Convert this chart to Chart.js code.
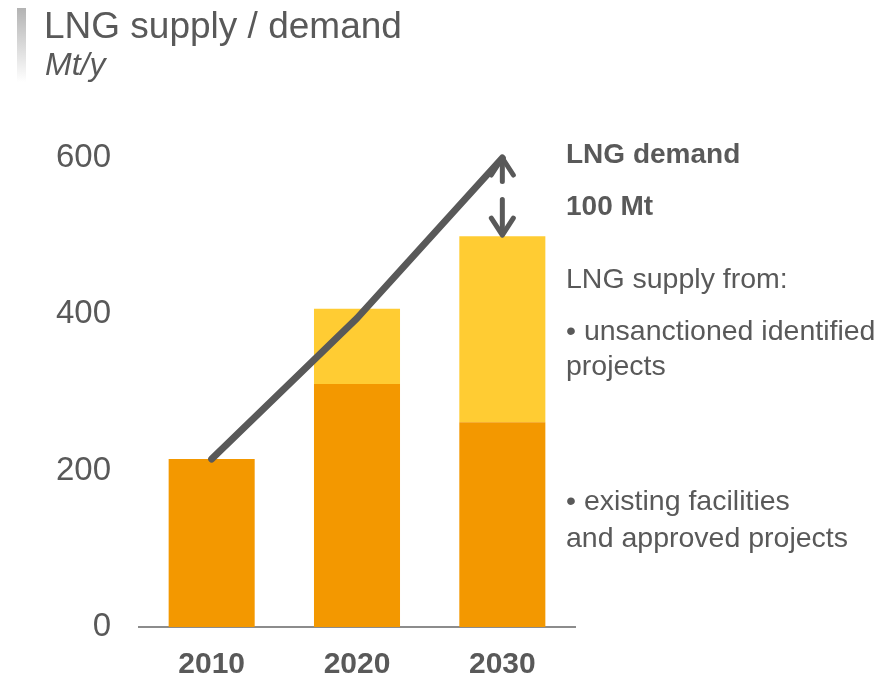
<!DOCTYPE html>
<html>
<head>
<meta charset="utf-8">
<script src="https://cdn.jsdelivr.net/npm/chart.js@4.4.1/dist/chart.umd.min.js"></script>
<style>
  html, body { margin: 0; padding: 0; background: #ffffff; }
  #wrap { position: relative; width: 884px; height: 677px; overflow: hidden; font-family: "Liberation Sans", Arial, sans-serif; color: #595959; }
  #c { position: absolute; left: 0; top: 0; }
  .t { position: absolute; white-space: nowrap; line-height: 1; }
  #bar { position: absolute; left: 17px; top: 8px; width: 9px; height: 74px; background: linear-gradient(#b3b3b3, #ffffff); }
</style>
</head>
<body>
<div id="wrap">
  <canvas id="c" width="884" height="677"></canvas>
  <div id="bar"></div>
  <div class="t" style="left:44px; top:7px; font-size:37px;">LNG supply / demand</div>
  <div class="t" style="left:45px; top:48px; font-size:32px; font-style:italic;">Mt/y</div>
  <div class="t" style="left:566px; top:140px; font-size:28px; font-weight:bold;">LNG demand</div>
  <div class="t" style="left:566px; top:192px; font-size:28px; font-weight:bold;">100 Mt</div>
  <div class="t" style="left:566px; top:264px; font-size:28.5px;">LNG supply from:</div>
  <div class="t" style="left:566px; top:316px; font-size:28.5px;">• unsanctioned identified</div>
  <div class="t" style="left:566px; top:351px; font-size:28.5px;">projects</div>
  <div class="t" style="left:566px; top:486px; font-size:28.5px;">• existing facilities</div>
  <div class="t" style="left:566px; top:523px; font-size:28.5px;">and approved projects</div>
</div>
<script>
const years = ["2010", "2020", "2030"];
const existingSupply = [215, 311, 262];
const unsanctionedSupply = [0, 96, 238];
const demand = [215, 395, 600];
const yTicks = [0, 200, 400, 600];

const TEXT = "#595959";
const FONT = "'Liberation Sans', Arial, sans-serif";

const arrowPlugin = {
  id: "gapArrow",
  afterDatasetsDraw(chart) {
    const ctx = chart.ctx;
    const xs = chart.scales.x, ys = chart.scales.y;
    const i = years.length - 1;
    const x = xs.getPixelForValue(i);
    const tipY = ys.getPixelForValue(demand[i]);
    const barY = ys.getPixelForValue(existingSupply[i] + unsanctionedSupply[i]);
    const d = barY - tipY;
    ctx.save();
    ctx.strokeStyle = TEXT;
    ctx.lineCap = "round";
    ctx.lineJoin = "round";
    ctx.lineWidth = 5;
    // dashed shaft
    ctx.beginPath();
    ctx.moveTo(x, tipY + 2); ctx.lineTo(x, tipY + 0.3 * d);
    ctx.moveTo(x, tipY + 0.53 * d); ctx.lineTo(x, barY - 5);
    ctx.stroke();
    // up head
    ctx.beginPath();
    ctx.moveTo(x - 11, tipY + 17); ctx.lineTo(x, tipY); ctx.lineTo(x + 11, tipY + 17);
    ctx.stroke();
    // down head
    ctx.beginPath();
    ctx.moveTo(x - 11, barY - 18); ctx.lineTo(x, barY - 1); ctx.lineTo(x + 11, barY - 18);
    ctx.stroke();
    ctx.restore();
  }
};

new Chart(document.getElementById("c"), {
  data: {
    labels: years,
    datasets: [
      {
        type: "line",
        label: "LNG demand",
        data: demand,
        borderColor: TEXT,
        borderWidth: 7,
        borderCapStyle: "round",
        borderJoinStyle: "round",
        pointRadius: 0,
        tension: 0,
        clip: false,
        order: 0
      },
      {
        type: "bar",
        label: "existing facilities and approved projects",
        data: existingSupply,
        backgroundColor: "#F39800",
        barPercentage: 0.592,
        categoryPercentage: 1,
        order: 1
      },
      {
        type: "bar",
        label: "unsanctioned identified projects",
        data: unsanctionedSupply,
        backgroundColor: "#FFCC33",
        barPercentage: 0.592,
        categoryPercentage: 1,
        order: 1
      }
    ]
  },
  options: {
    responsive: false,
    animation: false,
    devicePixelRatio: 1,
    layout: { padding: { top: 158, right: 309, left: 0, bottom: 0 } },
    plugins: { legend: { display: false }, tooltip: { enabled: false } },
    scales: {
      x: {
        stacked: true,
        grid: { display: false, drawTicks: false },
        border: { display: true, color: "#8c8c8c", width: 2 },
        ticks: { color: TEXT, font: { family: FONT, size: 30, weight: "bold" }, padding: 20 },
        afterFit(s) { s.height = 50; }
      },
      y: {
        stacked: true,
        min: 0,
        max: 600,
        afterBuildTicks(s) { s.ticks = yTicks.map(v => ({ value: v })); },
        grid: { display: false, drawTicks: false },
        border: { display: false },
        ticks: { color: TEXT, font: { family: FONT, size: 33 }, padding: 28 },
        afterFit(s) { s.width = 139; }
      }
    }
  },
  plugins: [arrowPlugin]
});
</script>
</body>
</html>
